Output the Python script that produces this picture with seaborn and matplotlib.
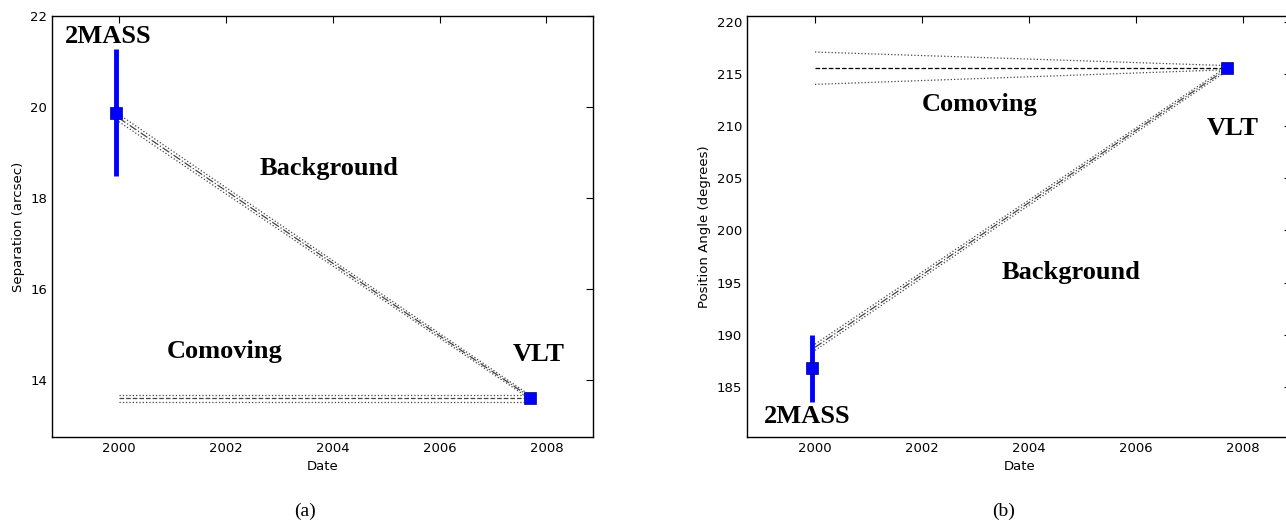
import matplotlib
matplotlib.use("Agg")
import matplotlib.pyplot as plt
import seaborn as sns

# observed epochs (2MASS, VLT)
epochs = [1999.95, 2007.7]
sep_vals = [19.88, 13.6]
sep_errs = [1.4, 0.02]
pa_vals = [186.8, 215.6]
pa_errs = [3.2, 0.1]

# predicted tracks: start / end of each model, with lower & upper bounds
track_x = [2000.0, 2007.7]
sep_bg = [19.76, 13.62]
sep_bg_lo = [19.68, 13.58]
sep_bg_hi = [19.84, 13.66]
sep_co = [13.6, 13.6]
sep_co_lo = [13.53, 13.53]
sep_co_hi = [13.67, 13.67]

pa_bg = [188.8, 215.5]
pa_bg_lo = [188.5, 215.3]
pa_bg_hi = [189.1, 215.7]
pa_co = [215.6, 215.6]
pa_co_lo = [214.0, 215.4]
pa_co_hi = [217.1, 215.8]

sns.set_style("white")
plt.rcParams["font.family"] = ["DejaVu Sans"]
plt.rcParams["text.color"] = "black"
plt.rcParams["axes.labelcolor"] = "black"

fig = plt.figure(figsize=(12.86, 5.22), dpi=100)
ax1 = fig.add_axes([0.0404, 0.1628, 0.4207, 0.8065])
# right panel runs past the edge of the image, as in the original
ax2 = fig.add_axes([0.5809, 0.1628, 0.4232, 0.8065])

grey = "#444444"


def draw_track(ax, mid, lo, hi, midstyle):
    sns.lineplot(x=track_x, y=mid, ax=ax, color=grey, linestyle=midstyle, lw=0.9)
    sns.lineplot(x=track_x, y=lo, ax=ax, color=grey, linestyle=":", lw=0.9)
    sns.lineplot(x=track_x, y=hi, ax=ax, color=grey, linestyle=":", lw=0.9)


# (a) separation
draw_track(ax1, sep_bg, sep_bg_lo, sep_bg_hi, "-.")
draw_track(ax1, sep_co, sep_co_lo, sep_co_hi, "--")
ax1.errorbar(epochs, sep_vals, yerr=sep_errs, fmt="s", color="blue",
             ms=8, elinewidth=3.5, mec="#000080", mew=0.5, zorder=5)

# (b) position angle
draw_track(ax2, pa_bg, pa_bg_lo, pa_bg_hi, "-.")
sns.lineplot(x=track_x, y=pa_co, ax=ax2, color="black", linestyle="--", lw=0.9)
sns.lineplot(x=track_x, y=pa_co_lo, ax=ax2, color=grey, linestyle=":", lw=0.9)
sns.lineplot(x=track_x, y=pa_co_hi, ax=ax2, color=grey, linestyle=":", lw=0.9)
ax2.errorbar(epochs, pa_vals, yerr=pa_errs, fmt="s", color="blue",
             ms=8, elinewidth=3.5, mec="#000080", mew=0.5, zorder=5)

ax1.set_xlim(1998.75, 2008.87)
ax1.set_ylim(12.75, 22)
ax1.set_yticks([14, 16, 18, 20, 22])
ax1.set_ylabel("Separation (arcsec)", fontsize=9.5)

ax2.set_xlim(1998.73, 2008.9)
ax2.set_ylim(180.2, 220.55)
ax2.set_yticks([185, 190, 195, 200, 205, 210, 215, 220])
ax2.set_ylabel("Position Angle (degrees)", fontsize=9.5)

for ax in (ax1, ax2):
    ax.set_xticks([2000, 2002, 2004, 2006, 2008])
    ax.set_xlabel("Date", fontsize=9.5)
    ax.tick_params(direction="in", top=True, right=True, length=5,
                   width=0.8, labelsize=9.5, colors="black")
    for s in ax.spines.values():
        s.set_color("black")
        s.set_linewidth(1.0)

lab = dict(fontsize=19, fontweight="bold", family="Liberation Serif",
           ha="center", va="center", color="black")
ax1.text(1999.8, 21.55, "2MASS", **lab)
ax1.text(2003.93, 18.64, "Background", **lab)
ax1.text(2001.98, 14.62, "Comoving", **lab)
ax1.text(2007.85, 14.57, "VLT", **lab)

ax2.text(1999.85, 182.2, "2MASS", **lab)
ax2.text(2004.78, 196.0, "Background", **lab)
ax2.text(2003.08, 212.1, "Comoving", **lab)
ax2.text(2007.8, 209.8, "VLT", **lab)

cap = dict(fontsize=14, family="Liberation Serif", ha="center", va="center",
           color="black")
fig.text(305 / 1286, 1 - 511 / 522, "(a)", **cap)
fig.text(1004 / 1286, 1 - 511 / 522, "(b)", **cap)

fig.savefig("out.png", dpi=100)
